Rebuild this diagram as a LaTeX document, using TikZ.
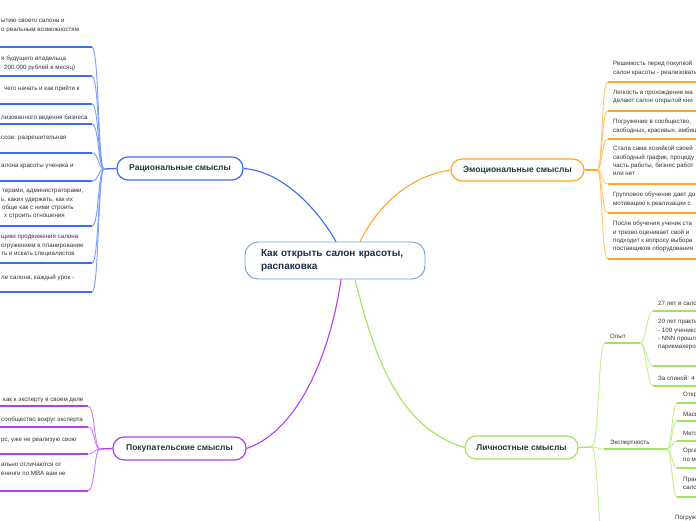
\documentclass[tikz,border=0pt]{standalone}
\usepackage{fontspec}
\setmainfont{Liberation Sans}
\definecolor{rblue}{HTML}{3B6CF5}
\definecolor{rblueL}{HTML}{7C9DFA}
\definecolor{eor}{HTML}{FFA62B}
\definecolor{eorL}{HTML}{FFC56E}
\definecolor{ppur}{HTML}{B23DF2}
\definecolor{ppurL}{HTML}{C97CF5}
\definecolor{lgrn}{HTML}{9EE65A}
\definecolor{lgrnL}{HTML}{C1EF8E}
\definecolor{labc}{HTML}{1D3B3D}
\definecolor{cenc}{HTML}{1C2C4C}
\definecolor{cenb}{HTML}{6F9FD8}
\definecolor{leafc}{HTML}{333333}
\tikzset{
  leaf/.style={anchor=north west, inner sep=0pt, align=left, yshift=3.81pt,
    text=leafc, font=\fontsize{6.2}{8.3}\selectfont, execute at begin node=\strut},
  ul/.style={draw=#1, line width=1.8pt},
  cv/.style={draw=#1, line width=0.9pt},
  cl/.style={draw=#1, line width=1.1pt},
  stem/.style={draw=#1, line width=1.3pt},
  grp/.style={draw=#1, rectangle, rounded corners=11pt, line width=1.2pt, fill=white,
    minimum height=23pt, inner sep=0pt, text=labc, font=\fontsize{8.5}{10}\selectfont\bfseries},
  cen/.style={draw=cenb, rectangle, rounded corners=13pt, line width=0.9pt, fill=white,
    minimum width=180pt, minimum height=37pt, text width=148pt, align=left, inner xsep=16pt,
    inner ysep=0pt, text=cenc, font=\fontsize{10}{13}\selectfont\bfseries},
  sub/.style={anchor=base west, inner sep=0pt, text=leafc, font=\fontsize{6.2}{8.3}\selectfont}
}
\newcommand\rleaf[4]{%
  \coordinate (#1) at (92,#2);
  \node[leaf] (#1t) at (1,#3) {#4};
  \draw[ul=rblue] (#1) -- ++(-96,0);
  \draw[cv=rblueL] (rh) .. controls (98,169) and (99,#2) .. (#1);
}
\newcommand\eleaf[4]{%
  \coordinate (#1) at (608,#2);
  \node[leaf] (#1t) at (613,#3) {#4};
  \draw[ul=eor] (#1) -- ++(96,0);
  \draw[cv=eorL] (eh) .. controls (603,170) and (601,#2) .. (#1);
}
\newcommand\pleaf[4]{%
  \coordinate (#1) at (88,#2);
  \node[leaf] (#1t) at (1,#3) {#4};
  \draw[ul=ppur] (#1) -- ++(-92,0);
  \draw[cv=ppurL] (ph) .. controls (94,449) and (95,#2) .. (#1);
}
\newcommand\oleaf[4]{%
  \coordinate (#1) at (653,#2);
  \node[leaf] (#1t) at (658,#3) {#4};
  \draw[ul=lgrn] (#1) -- ++(50,0);
  \draw[cv=lgrnL] (oh) .. controls (646,343) and (647,#2) .. (#1);
}
\newcommand\xleaf[4]{%
  \coordinate (#1) at (677,#2);
  \node[leaf] (#1t) at (683,#3) {#4};
  \draw[ul=lgrn] (#1) -- ++(30,0);
  \draw[cv=lgrnL] (xh) .. controls (672,449) and (672,#2) .. (#1);
}
\begin{document}
\begin{tikzpicture}[x=1pt,y=-1pt]
\useasboundingbox (0,0) rectangle (696,520);
\clip (0,0) rectangle (696,520);

% central and group nodes
\node[cen] (C) at (335,260.5) {Как открыть салон красоты,\\распаковка};
\node[grp=rblue, minimum width=126pt] (R) at (180,168.5) {Рациональные смыслы};
\node[grp=eor, minimum width=133pt, minimum height=22pt] (E) at (517.5,170) {Эмоциональные смыслы};
\node[grp=ppur, minimum width=133pt] (P) at (179.5,448.5) {Покупательские смыслы};
\node[grp=lgrn, minimum width=113pt] (L) at (521.5,447.5) {Личностные смыслы};

% main connectors
\draw[cl=rblue] ([xshift=1pt]C.north) .. controls (315,205) and (280,171) .. (R.east);
\draw[cl=eor] ([xshift=25pt]C.north) .. controls (378,205) and (410,176) .. (E.west);
\draw[cl=ppur] ([xshift=6pt]C.south) .. controls (331,350) and (300,430) .. (P.east);
\draw[cl=lgrn] ([xshift=20pt]C.south) .. controls (375,360) and (400,428) .. (L.west);

% hubs
\coordinate (rh) at (104,169);
\coordinate (eh) at (597,170);
\coordinate (ph) at (100,449);
\coordinate (lh) at (592,447);
\draw[stem=rblue] (R.west) -- (rh);
\draw[stem=eor] (E.east) -- (eh);
\draw[stem=ppur] (P.west) -- (ph);
\draw[stem=lgrn] (L.east) -- (lh);

% rational leaves
\rleaf{r1}{47}{23}{ытию своего салона и\\о реальным возможностям}
\rleaf{r2}{76}{60}{я будущего владельца\\\hspace*{3pt}200.000 рублей в месяц)}
\rleaf{r3}{104}{88}{\hspace*{3pt}чего начать и как прийти к}
\rleaf{r4}{124}{117}{лизованного ведения бизнеса}
\rleaf{r5}{153}{137}{ссов: разрешительная}
\rleaf{r6}{181}{165}{алона красоты ученика и}
\rleaf{r7}{226}{193}{\hspace*{1pt}терами, администраторами,\\ь, каких удержать, как их\\\hspace*{1pt}обще как с ними строить\\\hspace*{3pt}х строить отношения}
\rleaf{r8}{263}{239}{щики продвижения салона\\огружением в планирование\\ть и искать специалистов}
\rleaf{r9}{292}{277}{ле салона, каждый урок -}

% emotional leaves
\eleaf{e1}{82}{65}{Решимость перед покупкой\\салон красоты - реализовать}
\eleaf{e2}{111}{94}{Легкость в прохождение ма\\делают салон открытой кни}
\eleaf{e3}{139}{123}{Погружение в сообщество,\\свободных, красивых, амбиц}
\eleaf{e4}{184}{150}{Стала сама хозяйкой своей\\свободный график, процеду\\часть работы, бизнес работ\\или нет}
\eleaf{e5}{213}{196}{Групповое обучение дает до\\мотивацию к реализации с}
\eleaf{e6}{259}{225}{После обучения ученик ста\\и трезво оценивает свой и\\подходит к вопросу выбора\\поставщиков оборудования}

% purchase leaves
\pleaf{p1}{406}{399}{\hspace*{2pt}как к эксперту в своем деле}
\pleaf{p2}{427}{419}{сообщество вокруг эксперта}
\pleaf{p3}{454}{439}{рс, уже не реализую свою}
\pleaf{p4}{491}{467}{ально отличаются от\\енинги по MBA вам не}

% personal sub-branches
\coordinate (o0) at (605,343);
\coordinate (oh) at (640,343);
\coordinate (x0) at (604,449);
\coordinate (xh) at (667,449);
\coordinate (g0) at (606,565);
\node[sub] (ot) at (610,338.5) {Опыт};
\node[sub] (xt) at (610,444.5) {Экспертность};
\draw[ul=lgrn] (o0) -- (oh);
\draw[ul=lgrn] (x0) -- (xh);
\draw[cv=lgrnL] (lh) .. controls (599,447) and (598,343) .. (o0);
\draw[cv=lgrnL] (lh) .. controls (597,447) and (598,449) .. (x0);
\draw[cv=lgrnL] (lh) .. controls (598,447) and (599,565) .. (g0);

\oleaf{o1}{311}{303}{27 лет в салонном}
\oleaf{o2}{366}{323}{20 лет практики\\- 100 учеников\\- NNN прошли\\парикмахеров}
\oleaf{o3}{386}{378}{За спиной: 4 салона}

\xleaf{x1}{403}{394}{Открыла}
\xleaf{x2}{421}{414}{Маска}
\xleaf{x3}{441}{433}{Методика}
\xleaf{x4}{468}{452}{Органи\\по мет}
\xleaf{x5}{497}{481}{Практи\\салона}
\node[sub] (gt) at (675,519.5) {Погружение};
\end{tikzpicture}
\end{document}
